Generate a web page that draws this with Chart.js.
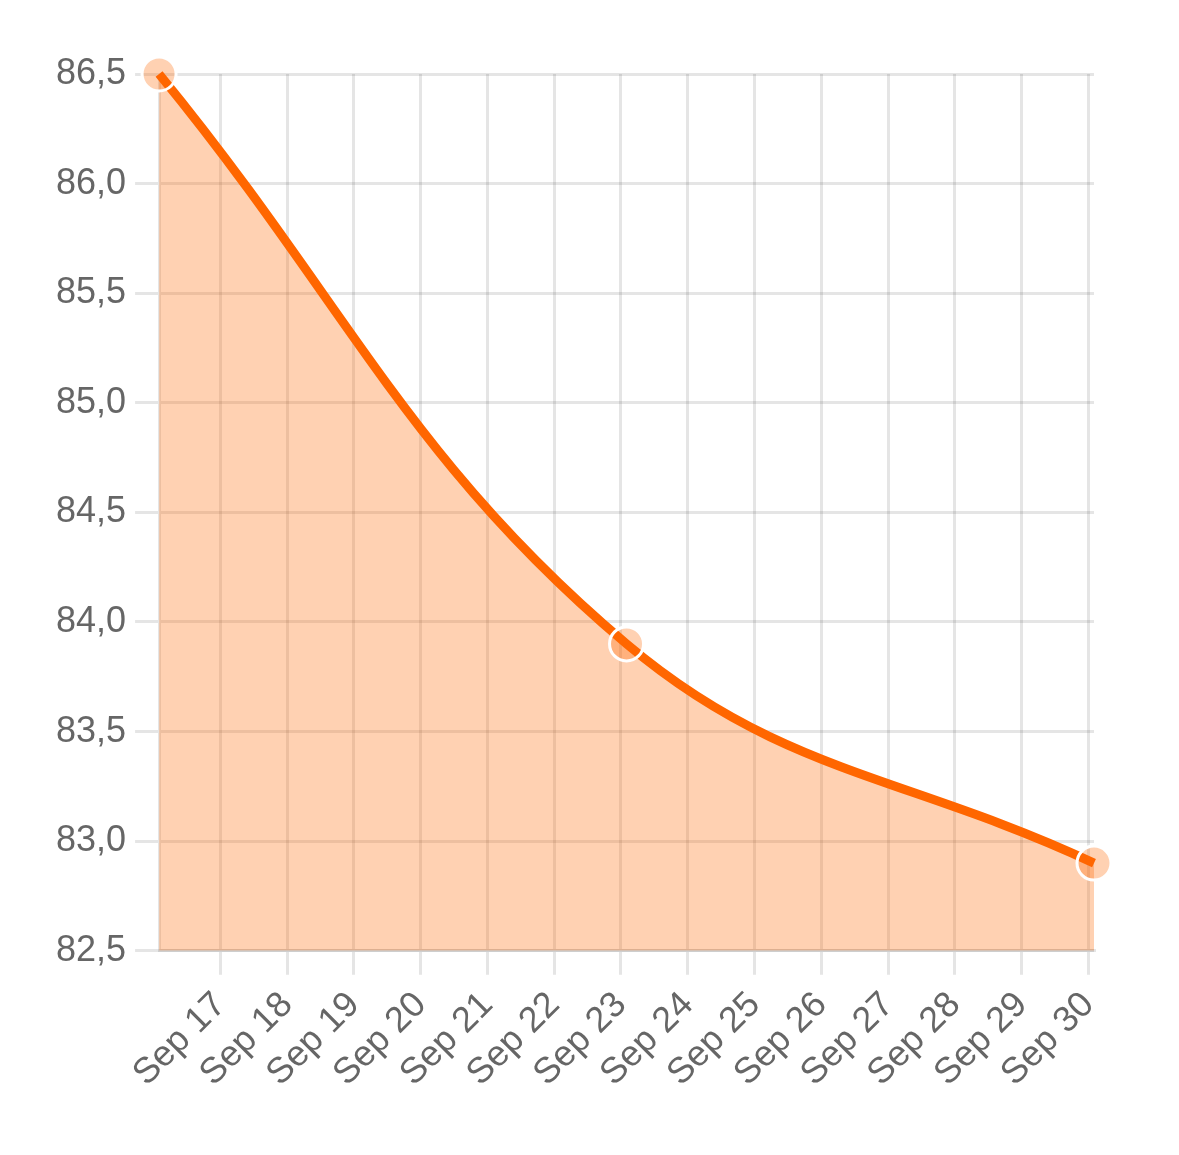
<!DOCTYPE html>
<html>
<head>
<meta charset="utf-8">
<script src="https://cdn.jsdelivr.net/npm/chart.js@4/dist/chart.umd.min.js"></script>
<style>
  html, body { margin: 0; padding: 0; background: #fff; }
  #wrap { width: 1179px; height: 1155px; }
</style>
</head>
<body>
<div id="wrap"><canvas id="priceChart"></canvas></div>
<script>
// data (x = day of September, points sit ~2h past midnight)
const days = [16.083, 23.083, 30.083];
const values = [86.5, 83.9, 82.9];
const tickDays = [17, 18, 19, 20, 21, 22, 23, 24, 25, 26, 27, 28, 29, 30];
const monthName = "Sep";
const yTicks = [82.5, 83, 83.5, 84, 84.5, 85, 85.5, 86, 86.5];

Chart.defaults.font.family = "'Helvetica Neue', Helvetica, Arial, 'Liberation Sans', sans-serif";
Chart.defaults.font.size = 36;
Chart.defaults.color = "#666";

const ctx = document.getElementById("priceChart").getContext("2d");

const chart = new Chart(ctx, {
    type: "line",
    data: {
        datasets: [
            {
                data: days.map((d, i) => ({ x: d, y: values[i] })),
                borderColor: "#ff6600",
                borderWidth: 9,
                backgroundColor: "rgba(255, 102, 0, 0.3)",
                fill: "start",
                tension: 0.4,
                clip: false,
                pointRadius: 17,
                pointBorderWidth: 3,
                pointBackgroundColor: "rgba(255, 102, 0, 0.3)",
                pointBorderColor: "#fff",
            },
        ],
    },
    options: {
        responsive: true,
        maintainAspectRatio: false,
        devicePixelRatio: 1,
        animation: false,
        layout: {
            padding: { top: 74, right: 85, bottom: 51, left: 47 },
        },
        plugins: {
            legend: { display: false },
            tooltip: { enabled: false },
        },
        scales: {
            x: {
                type: "linear",
                min: days[0],
                max: days[days.length - 1],
                afterBuildTicks: (axis) => {
                    axis.ticks = tickDays.map((v) => ({ value: v }));
                },
                grid: { color: "rgba(0, 0, 0, 0.1)", lineWidth: 3, tickLength: 24 },
                border: { color: "rgba(0, 0, 0, 0.1)", width: 3 },
                ticks: {
                    autoSkip: false,
                    minRotation: 45,
                    maxRotation: 45,
                    padding: 9,
                    callback: (v) => monthName + " " + v,
                },
            },
            y: {
                min: yTicks[0],
                max: yTicks[yTicks.length - 1],
                afterBuildTicks: (axis) => {
                    axis.ticks = yTicks.map((v) => ({ value: v }));
                },
                grid: { color: "rgba(0, 0, 0, 0.1)", lineWidth: 3, tickLength: 24 },
                border: { color: "rgba(0, 0, 0, 0.1)", width: 3 },
                ticks: {
                    padding: 9,
                    callback: (v) => v.toFixed(1).replace(".", ","),
                },
            },
        },
    },
});
</script>
</body>
</html>
